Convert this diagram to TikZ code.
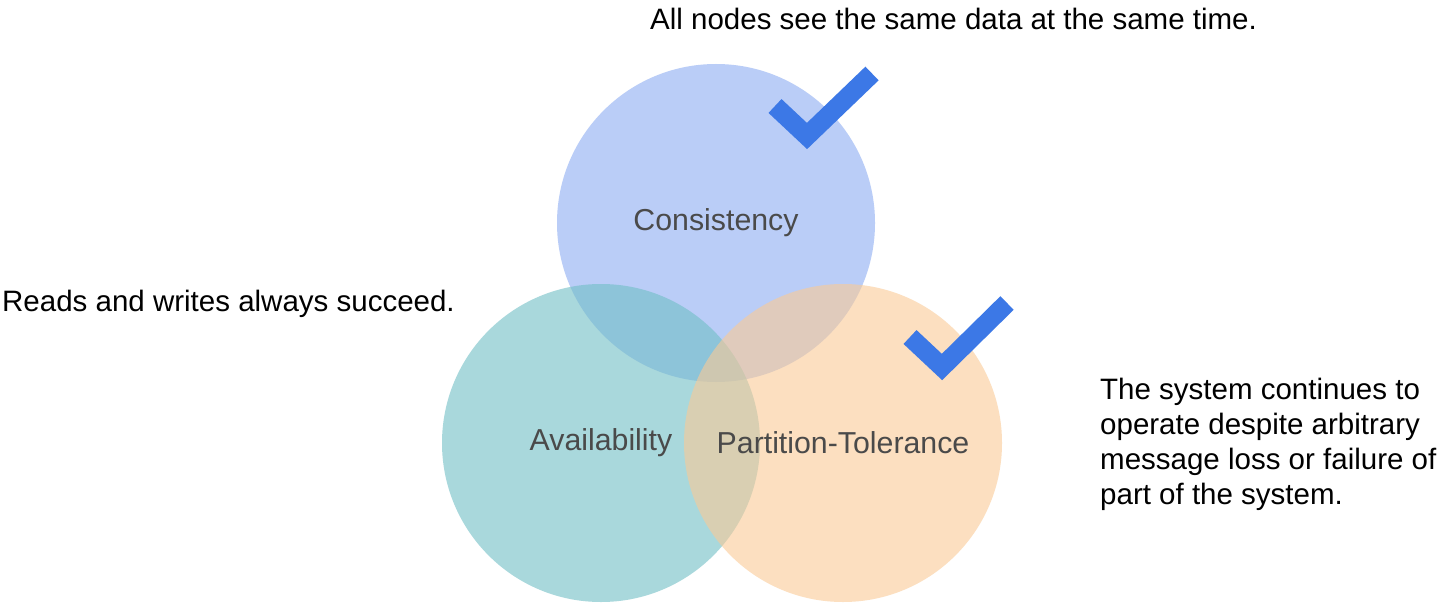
\documentclass[tikz,border=0pt]{standalone}
\usepackage{fontspec}
\setmainfont{Liberation Sans}
\definecolor{cblue}{RGB}{186,205,247}
\definecolor{cteal}{RGB}{112,190,197}
\definecolor{cpeach}{RGB}{250,202,150}
\definecolor{ccheck}{RGB}{60,120,230}
\definecolor{clabel}{RGB}{74,74,74}
\tikzset{
  setcircle/.style={circle, minimum size=318pt, inner sep=0pt, text=clabel,
    font=\fontsize{30.3}{36}\selectfont},
  note/.style={inner sep=0pt, text=black, font=\fontsize{29.5}{34.7}\selectfont},
  checkmark/.style={draw=ccheck, line width=19pt, line join=miter, line cap=butt}
}
\begin{document}
\begin{tikzpicture}[x=1pt,y=-1pt]
\useasboundingbox (0,0) rectangle (1450,607);
\fill[white] (0,0) rectangle (1450,607);
\node[setcircle, fill=cblue] (C) at (716,223) {Consistency};
\node[setcircle, fill=cteal, fill opacity=0.6, text opacity=1] (A) at (601,443) {Availability};
\node[setcircle, fill=cpeach, fill opacity=0.6, text opacity=1] (P) at (843,443) {Partition-Tolerance};
\draw[checkmark] (775,106) -- (807,136) -- (872,73.5);
\draw[checkmark] (910,337) -- (942,367) -- (1007,303);
\node[note, anchor=base west] (tc) at (650,30) {All nodes see the same data at the same time.};
\node[note, anchor=base west] (ta) at (2,311) {Reads and writes always succeed.};
\node[note, anchor=base west, align=left] (tp) at (1100,504) {The system continues to\\operate despite arbitrary\\message loss or failure of\\part of the system.};
\end{tikzpicture}
\end{document}
